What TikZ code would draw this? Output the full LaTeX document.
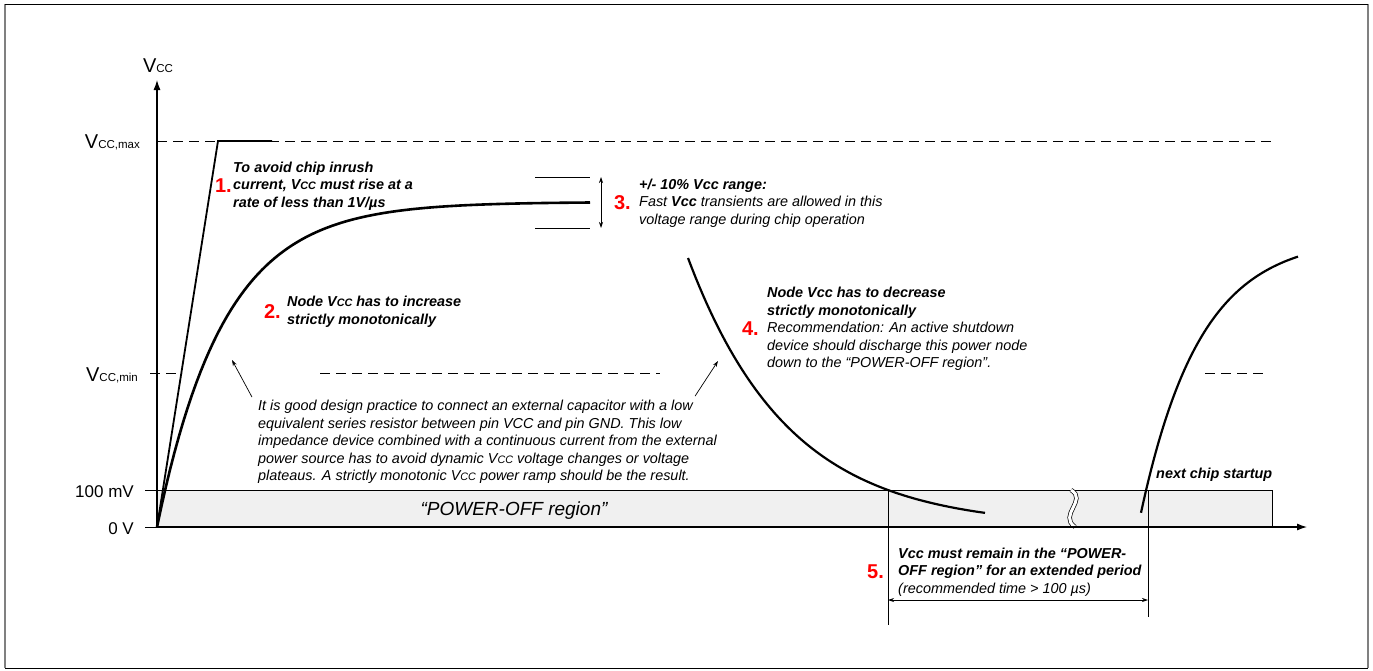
\documentclass[tikz,border=0pt]{standalone}
\usepackage{fontspec}
\setmainfont{Liberation Sans}
\usepackage{graphicx}
\usetikzlibrary{arrows.meta,positioning,calc}
\newcommand{\Vcc}{V\scalebox{0.75}{CC}}
\newcommand{\axvcc}[1]{{\fontsize{20}{20}\selectfont V}{\fontsize{11.5}{12}\selectfont CC#1}}

\begin{document}
\begin{tikzpicture}[
  x=1pt, y=-1pt,
  txt/.style={inner sep=0pt,align=left,anchor=west,font=\fontsize{14.4}{17.5}\selectfont\itshape},
  btxt/.style={txt,font=\fontsize{14.4}{17.5}\selectfont\bfseries\itshape},
  num/.style={inner sep=0pt,text=red,font=\fontsize{20}{20}\selectfont\bfseries},
  lvl/.style={inner sep=0pt,anchor=east,font=\fontsize{17}{17}\selectfont},
  axis/.style={line width=1.1pt,-{Latex[length=10pt,width=7pt]}},
  guide/.style={line width=0.9pt,dash pattern=on 10pt off 6pt},
  thin/.style={line width=0.7pt},
  ar/.style={thin,-{Stealth[length=6pt,width=4pt]}},
  dim/.style={thin,{Stealth[length=6pt,width=4pt]}-{Stealth[length=6pt,width=4pt]}}
]
\useasboundingbox (0,0) rectangle (1373,670);
\draw[black!50,line width=2pt] (5,4) -- (5,668) (1368,4) -- (1368,668);
\draw[line width=1pt] (5,4) -- (1368,4) (5,668) -- (1368,668);

\draw[thin,fill=black!6] (157,490) rectangle (1272,527);
\draw[thin] (145,490) -- (157,490) (145,527) -- (157,527);
\draw[thin,double=white,double distance=3pt] (1071,490) .. controls (1088,500) and (1058,515) .. (1075,527);

\coordinate (o) at (157,527);
\draw[axis] (o) -- (157,80);
\draw[axis] (o) -- (1307,527);

\draw[guide] (157,141) -- (1275,141);
\draw[guide] (150,373) -- (182,373) (320,373) -- (660,373) (1205,373) -- (1263,373);

\node[inner sep=0pt] (vcc) at (158,66) {\axvcc{}};
\node[lvl] (vmax) at (140,142) {\axvcc{,max}};
\node[lvl] (vmin) at (138,375) {\axvcc{,min}};
\node[lvl] (v100) at (134,492) {100 mV};
\node[lvl] (v0) at (134,529) {0 V};

\draw[line width=1.8pt] (o) -- (218,141) -- (272,141);
\draw[line width=2.6pt] plot[domain=157:590,samples=100] (\x,{527-325*(1-exp(-(\x-157)/67))});
\draw[line width=2.2pt] plot[domain=688:985,samples=80] (\x,{527-269*exp(-(\x-688)/100.8)});
\draw[line width=2.2pt] plot[domain=1141:1298,samples=80] (\x,{527-290*(1-exp(-(\x-1138)/59.4))});

\coordinate (rhi) at (601,177);
\coordinate (rlo) at (601,228);
\draw[thin] (535,177) -- (590,177) (535,228) -- (590,228);
\draw[dim] (rhi) -- (rlo);

\coordinate (offend) at (888,600);
\coordinate (onstart) at (1148,600);
\draw[thin] (888,490) -- (888,625) (1148,490) -- (1148,617);
\draw[dim] (offend) -- (onstart);

\node[btxt] (t1) at (233,186) {To avoid chip inrush\\current, \Vcc{} must rise at a\\rate of less than 1V/µs};
\node[num, left=1pt of t1] (n1) {1.};
\node[btxt] (t2) at (287,312) {Node \Vcc{} has to increase\\strictly monotonically};
\node[num, left=6pt of t2] (n2) {2.};
\node[txt] (t3) at (639,203) {\textbf{+/- 10\% Vcc range:}\\Fast \textbf{Vcc} transients are allowed in this\\voltage range during chip operation};
\node[num, left=8pt of t3] (n3) {3.};
\node[txt] (t4) at (767,329) {\textbf{Node Vcc has to decrease}\\\textbf{strictly monotonically}\\Recommendation: An active shutdown\\device should discharge this power node\\down to the “POWER-OFF region”.};
\node[num, left=8pt of t4] (n4) {4.};
\node[txt] (t5) at (898,572) {\textbf{Vcc must remain in the “POWER-}\\\textbf{OFF region” for an extended period}\\(recommended time > 100~µs)};
\node[num, left=14pt of t5] (n5) {5.};
\node[txt] (note) at (258,442) {It is good design practice to connect an external capacitor with a low\\equivalent series resistor between pin VCC and pin GND. This low\\impedance device combined with a continuous current from the external\\power source has to avoid dynamic \Vcc{} voltage changes or voltage\\plateaus. A strictly monotonic \Vcc{} power ramp should be the result.};
\node[btxt] (next) at (1156,475) {next chip startup};
\node[font=\fontsize{19}{19}\selectfont\itshape] (region) at (514,511) {“POWER-OFF region”};

\coordinate (rise) at (232,360);
\coordinate (fall) at (718,361);
\draw[ar] ([xshift=-6pt,yshift=3pt]note.north west) -- (rise);
\draw[ar] ([xshift=-22pt,yshift=4pt]note.north east) -- (fall);
\end{tikzpicture}
\end{document}
